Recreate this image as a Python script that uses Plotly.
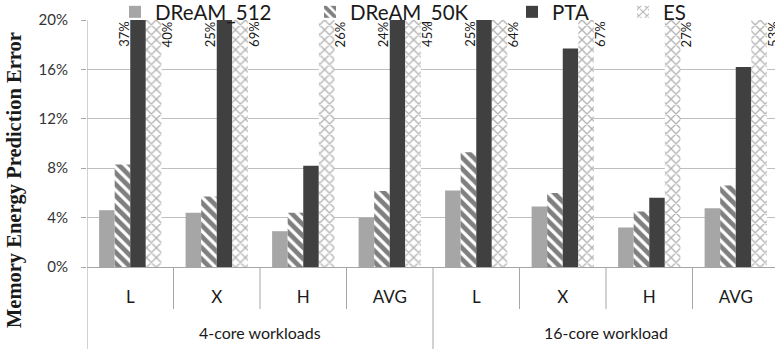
import plotly.graph_objects as go

# ---------------- data ----------------
categories = ["L", "X", "H", "AVG", "L", "X", "H", "AVG"]
groups = ["4-core workloads", "16-core workload"]
group_sizes = [4, 4]
series_names = ["DReAM_512", "DReAM_50K", "PTA", "ES"]
dream_512 = [4.6, 4.4, 2.9, 4.0, 6.2, 4.9, 3.2, 4.75]
dream_50k = [8.3, 5.7, 4.4, 6.15, 9.3, 6.0, 4.5, 6.6]
pta = [37, 25, 8.2, 24, 25, 17.7, 5.6, 16.2]
es = [40, 69, 26, 45, 64, 67, 27, 53]
y_ticks = [0, 4, 8, 12, 16, 20]

# ---------------- geometry / style ----------------
W, H = 775, 349
PLOT_L, PLOT_T, PLOT_B = 87, 20, 267
ML, MT, MB = PLOT_L, PLOT_T, H - PLOT_B
PW, PH = W - ML, H - MT - MB
CAT_PX = 86.5
Y_MAX = 20
BARGAP = 0.28
FONT = "Lato"

x = list(range(len(categories)))
x_max = -0.5 + PW / CAT_PX

def px_to_xpaper(px):
    return (px - ML) / PW

def px_to_ypaper(py):
    return (PLOT_B - py) / PH

fig = go.Figure()
fig.add_bar(x=x, y=dream_512, name=series_names[0], legend="legend",
            marker=dict(color="#a6a6a6", line=dict(width=0)))
fig.add_bar(x=x, y=dream_50k, name=series_names[1], legend="legend2",
            marker=dict(color="white", line=dict(width=0),
                        pattern=dict(shape="\\", fgcolor="black", bgcolor="white",
                                     size=8, solidity=0.6)))
fig.add_bar(x=x, y=pta, name=series_names[2], legend="legend3",
            marker=dict(color="#404040", line=dict(width=0)))
fig.add_bar(x=x, y=es, name=series_names[3], legend="legend4",
            marker=dict(color="white", line=dict(width=0),
                        pattern=dict(shape="x", fgcolor="#666666", bgcolor="white",
                                     size=7, solidity=0.35)))

bar_w = (1 - BARGAP) / 4
annotations = []
# clipped value labels (PTA left of bar, ES right of bar)
for i, v in enumerate(pta):
    if v > Y_MAX:
        annotations.append(dict(x=i - 6.5 / CAT_PX, y=Y_MAX, xref="x", yref="y",
                                text=f"{v:.0f}%", textangle=-90, showarrow=False,
                                xanchor="center", yanchor="middle", yshift=-14,
                                font=dict(family=FONT, size=13, color="#1a1a1a")))
for i, v in enumerate(es):
    if v > Y_MAX:
        annotations.append(dict(x=i + 2 * bar_w + 6 / CAT_PX, y=Y_MAX, xref="x", yref="y",
                                text=f"{v:.0f}%", textangle=-90, showarrow=False,
                                xanchor="center", yanchor="middle", yshift=-14,
                                font=dict(family=FONT, size=13, color="#1a1a1a")))

# group labels and dividers
shapes = []
start = 0
ybot = px_to_ypaper(H)
for g, n in zip(groups, group_sizes):
    annotations.append(dict(x=start + (n - 1) / 2, y=px_to_ypaper(332), xref="x", yref="paper",
                            text=g, showarrow=False, xanchor="center", yanchor="middle",
                            font=dict(family=FONT, size=16, color="#1a1a1a")))
    for k in range(1, n):
        xd = start + k - 0.5
        shapes.append(dict(type="line", xref="x", yref="paper", x0=xd, x1=xd,
                           y0=0, y1=px_to_ypaper(309), line=dict(color="#a6a6a6", width=1)))
    end = start + n - 0.5
    if end < x_max:
        shapes.append(dict(type="line", xref="x", yref="paper", x0=end, x1=end,
                           y0=0, y1=ybot, line=dict(color="#a6a6a6", width=1)))
    start += n
# y axis line extended through category table
shapes.append(dict(type="line", xref="x", yref="paper", x0=-0.5, x1=-0.5, y0=1, y1=ybot,
                   line=dict(color="#a6a6a6", width=1)))

# y-axis title
annotations.append(dict(x=px_to_xpaper(14), y=px_to_ypaper(180), xref="paper", yref="paper",
                        text="<b>Memory Energy Prediction Error</b>", textangle=-90,
                        showarrow=False, xanchor="center", yanchor="middle",
                        font=dict(family="Liberation Serif", size=20.5, color="#1a1a1a")))

def legend_at(px):
    return dict(x=px_to_xpaper(px), y=px_to_ypaper(12), xref="paper", yref="paper",
                xanchor="left", yanchor="middle", orientation="h",
                bgcolor="rgba(0,0,0,0)", borderwidth=0, itemwidth=30,
                font=dict(family=FONT, size=20.5, color="#1a1a1a"))

fig.update_layout(
    width=W, height=H,
    margin=dict(l=ML, r=0, t=MT, b=MB, pad=0, autoexpand=False),
    paper_bgcolor="white", plot_bgcolor="white",
    barmode="group", bargap=BARGAP, bargroupgap=0,
    showlegend=True,
    legend=legend_at(115), legend2=legend_at(310), legend3=legend_at(512), legend4=legend_at(623),
    xaxis=dict(range=[-0.5, x_max], tickvals=x, ticktext=categories, ticks="",
               showline=True, linecolor="#a6a6a6", linewidth=1, showgrid=False, zeroline=False,
               ticklabelstandoff=15,
               tickfont=dict(family=FONT, size=17, color="#1a1a1a")),
    yaxis=dict(range=[0, Y_MAX], tickvals=y_ticks, ticktext=[f"{t}%" for t in y_ticks],
               ticks="outside", ticklen=5, tickcolor="#a6a6a6", showgrid=True, gridcolor="#bfbfbf",
               gridwidth=1, zeroline=False, showline=False, ticklabelstandoff=10,
               tickfont=dict(family=FONT, size=15, color="#333333")),
    annotations=annotations, shapes=shapes,
)

fig.write_html("out.html", config={"displayModeBar": False},
               post_script="document.body.style.margin='0';")
